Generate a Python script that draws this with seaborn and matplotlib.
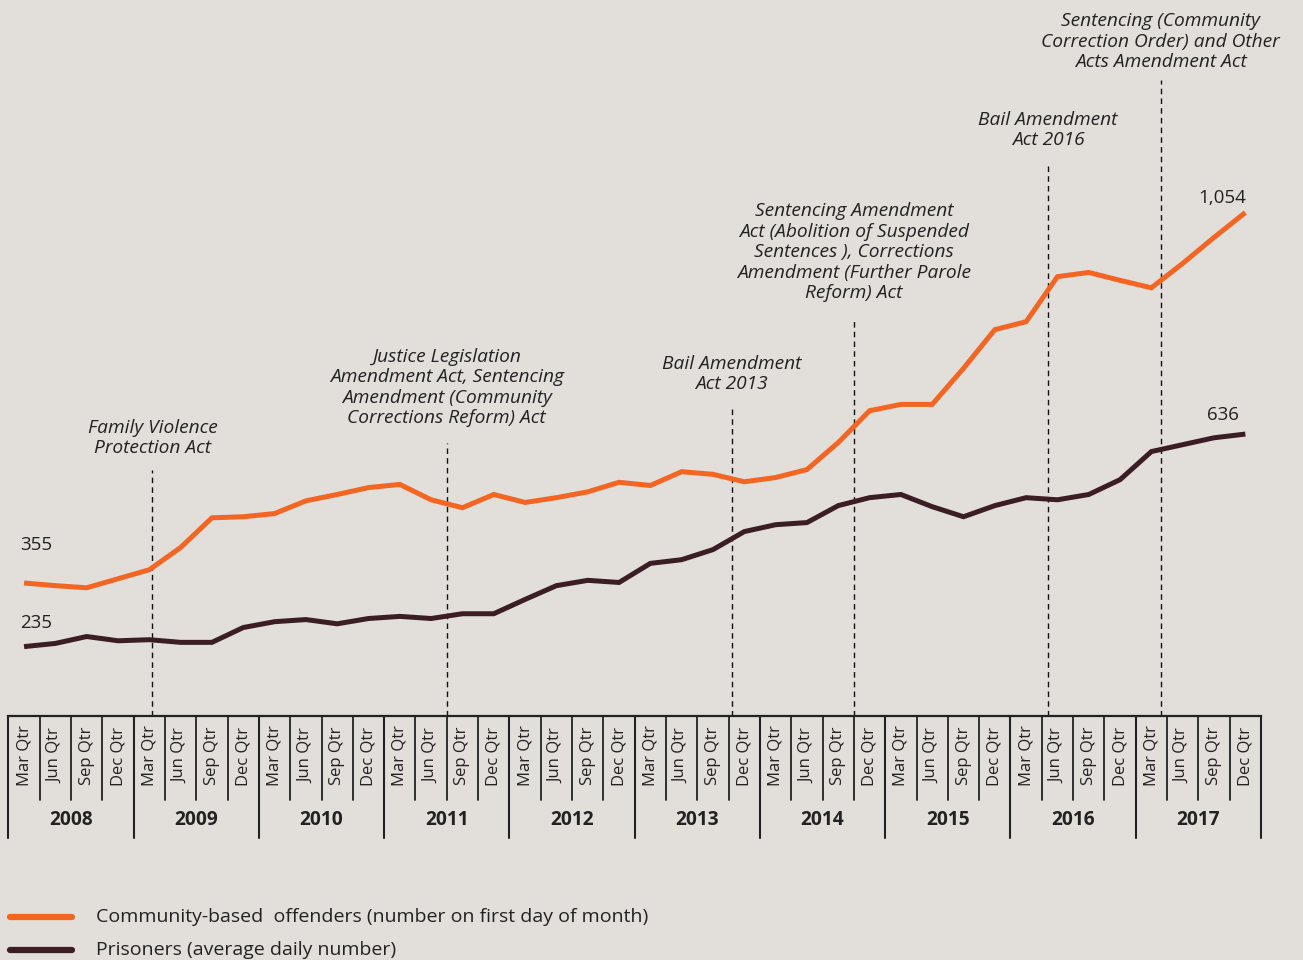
import numpy as np
import pandas as pd
import seaborn as sns
import matplotlib.pyplot as plt
from matplotlib.lines import Line2D

# Quarterly series, Mar 2008 - Dec 2017
years = [str(y) for y in range(2008, 2018)]
quarters = ["Mar Qtr", "Jun Qtr", "Sep Qtr", "Dec Qtr"]

community = [355, 350, 346, 363, 380, 422, 478, 480, 486, 510,
             522, 535, 541, 512, 497, 522, 507, 516, 527, 545,
             539, 565, 560, 546, 554, 569, 620, 680, 692, 692,
             760, 833, 848, 933, 941, 926, 912, 958, 1007, 1054]

prisoners = [235, 241, 254, 246, 248, 243, 243, 271, 282, 286,
             278, 288, 292, 288, 297, 297, 324, 350, 360, 356,
             392, 399, 418, 452, 465, 469, 501, 516, 522, 499,
             480, 501, 516, 512, 522, 550, 603, 616, 629, 636]

events = [
    "Family Violence\nProtection Act",
    "Justice Legislation\nAmendment Act, Sentencing\nAmendment (Community\nCorrections Reform) Act",
    "Bail Amendment\nAct 2013",
    "Sentencing Amendment\nAct (Abolition of Suspended\nSentences ), Corrections\nAmendment (Further Parole\nReform) Act",
    "Bail Amendment\nAct 2016",
    "Sentencing (Community\nCorrection Order) and Other\nActs Amendment Act",
]
event_at = [4.1, 13.5, 22.6, 26.5, 32.7, 36.3]

series_names = ["Community-based  offenders (number on first day of month)",
                "Prisoners (average daily number)"]

# ---- styling ----
BG = "#e2deda"
ORANGE = "#f26522"
BROWN = "#3b1e24"
FONT = ["Open Sans", "DejaVu Sans"]
INK = "#222222"

sns.set_theme(style="white")
plt.rcParams["font.family"] = FONT
plt.rcParams["text.color"] = INK

W, H = 1303, 960
fig = plt.figure(figsize=(W / 100, H / 100), dpi=100, facecolor=BG)

x_left, x_right = 8.4, 1261.0
axis_y = 716
ax = fig.add_axes([x_left / W, (H - axis_y) / H, (x_right - x_left) / W, axis_y / H])
ax.set_facecolor(BG)

n = len(community)
idx = np.arange(n)
df = pd.DataFrame({"q": np.concatenate([idx, idx]),
                   "value": community + prisoners,
                   "series": [series_names[0]] * n + [series_names[1]] * n})

sns.lineplot(data=df, x="q", y="value", hue="series",
             palette=[ORANGE, BROWN], linewidth=3.6, ax=ax, legend=False,
             solid_capstyle="butt", solid_joinstyle="miter")

ax.set_xlim(-0.5, n - 0.5)
px_per_unit = 0.53
y_low = community[0] - (axis_y - 583) / px_per_unit
y_high = y_low + axis_y / px_per_unit
ax.set_ylim(y_low, y_high)
ax.set_xticks([])
ax.set_yticks([])
ax.set_xlabel("")
ax.set_ylabel("")
for side in ["left", "right", "top"]:
    ax.spines[side].set_visible(False)
ax.spines["bottom"].set_color(INK)
ax.spines["bottom"].set_linewidth(1.6)


def px_to_val(py):
    """Vertical pixel position (from the top of the figure) to a data value."""
    return y_low + (axis_y - py) / px_per_unit


# event markers with their captions
line_tops = [470, 443, 405, 318, 165, 80]
caption_last_line = [446, 416, 382, 291, 138, 60]
for pos, label, top, base in zip(event_at, events, line_tops, caption_last_line):
    ax.plot([pos, pos], [y_low, px_to_val(top)], color="#111111", lw=1.0,
            ls=(0, (4, 3)), zorder=1)
    ax.text(pos, px_to_val(base + 11), label,
            ha="center", va="bottom", fontsize=13.8, style="italic",
            color=INK, linespacing=1.17)

# endpoint values
ax.text(0.4, community[0] + 38 / px_per_unit, f"{community[0]:,}",
        ha="center", va="center", fontsize=13.5)
ax.text(0.4, prisoners[0] + 24 / px_per_unit, f"{prisoners[0]:,}",
        ha="center", va="center", fontsize=13.5)
ax.text(n - 1.75, community[-1] + 15 / px_per_unit, f"{community[-1]:,}",
        ha="center", va="center", fontsize=13.5)
ax.text(n - 1.7, prisoners[-1] + 19 / px_per_unit, f"{prisoners[-1]:,}",
        ha="center", va="center", fontsize=13.5)

# quarter / year axis box below the plot
box_h = 124
tx = fig.add_axes([x_left / W, (H - axis_y - box_h) / H, (x_right - x_left) / W, box_h / H])
tx.set_xlim(-0.5, n - 0.5)
tx.set_ylim(box_h, 0)
tx.axis("off")
for i in range(n + 1):
    bx = i - 0.5
    if i % 4 == 0:
        tx.plot([bx, bx], [0, 122], color=INK, lw=1.5, clip_on=False)
    else:
        tx.plot([bx, bx], [0, 84], color=INK, lw=1.3, clip_on=False)
for i in range(n):
    tx.text(i, 40, quarters[i % 4], rotation=90, ha="center", va="center",
            fontsize=12, color=INK)
for k, yr in enumerate(years):
    tx.text(4 * k + 1.5, 104, yr, ha="center", va="center",
            fontsize=13.8, fontweight="bold", color=INK)

# legend
for yy, col, name in [(917, ORANGE, series_names[0]), (950, BROWN, series_names[1])]:
    fig.add_artist(Line2D([10 / W, 72 / W], [(H - yy) / H] * 2, color=col,
                          lw=4.5, transform=fig.transFigure))
    fig.text(96 / W, (H - yy) / H, name, ha="left", va="center",
             fontsize=14, color=INK)

fig.savefig("out.png", dpi=100, facecolor=BG)
